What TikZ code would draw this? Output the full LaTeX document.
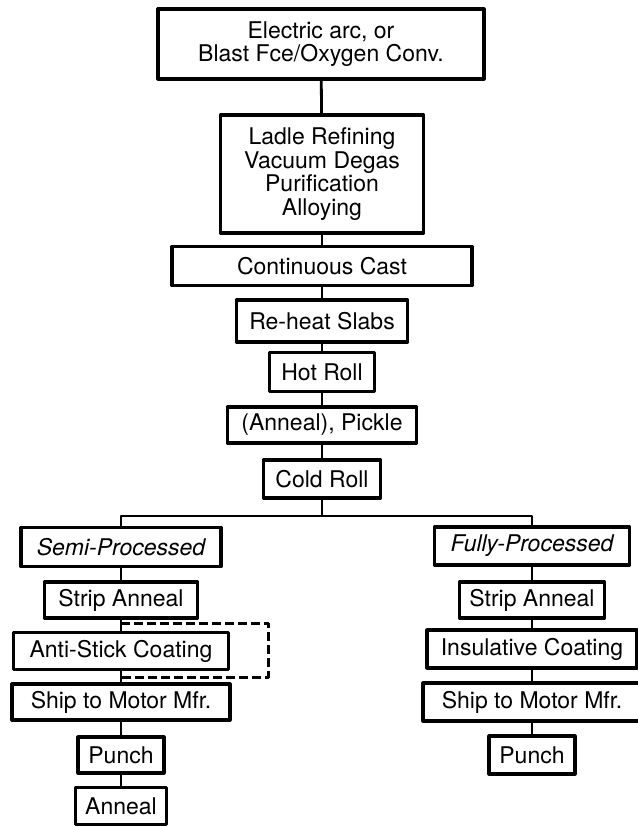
\documentclass[tikz,border=0pt]{standalone}
\usepackage{fontspec}
\setmainfont{TeX Gyre Heros}
\usetikzlibrary{positioning,calc}

\begin{document}
\begin{tikzpicture}[x=1pt,y=-1pt,line join=round,
  box/.style={draw,line width=3.2pt,inner sep=0pt,align=center,
    font=\fontsize{23}{23.5}\selectfont},
  link/.style={line width=2.8pt},
  opt/.style={line width=3pt,dash pattern=on 9pt off 4pt}]
\useasboundingbox (0,0) rectangle (637,827);
% main route
\node[box,minimum width=326,minimum height=70] (src) at (321,44) {Electric arc, or\\Blast Fce/Oxygen Conv.};
\node[box,minimum width=203,minimum height=118] (ladle) at (322,174) {Ladle Refining\\Vacuum Degas\\Purification\\Alloying};
\node[box,minimum width=300,minimum height=39] (cast) at (322,266) {Continuous Cast};
\node[box,minimum width=171,minimum height=42] (reheat) at (322,321) {Re-heat Slabs};
\node[box,minimum width=105,minimum height=39] (hot) at (322,372) {Hot Roll};
\node[box,minimum width=189,minimum height=36] (pickle) at (322,425) {(Anneal), Pickle};
\node[box,minimum width=117,minimum height=38] (cold) at (322,479) {Cold Roll};
\coordinate (fork) at (322,516);
% semi-processed
\node[box,minimum width=200,minimum height=39,font=\fontsize{23}{23.5}\selectfont\itshape] (semi) at (121,547) {Semi-Processed};
\node[box,minimum width=153,minimum height=36] (stripL) at (121,600) {Strip Anneal};
\node[box,minimum width=215,minimum height=37] (coatL) at (121,651) {Anti-Stick Coating};
\node[box,minimum width=218,minimum height=36] (shipL) at (121,702) {Ship to Motor Mfr.};
\node[box,minimum width=86,minimum height=36] (punchL) at (121,755) {Punch};
\node[box,minimum width=91,minimum height=37] (anneal) at (121,806) {Anneal};
% fully-processed
\node[box,minimum width=195,minimum height=38,font=\fontsize{23}{23.5}\selectfont\itshape] (fully) at (532,546) {Fully-Processed};
\node[box,minimum width=145,minimum height=36] (stripR) at (532,600) {Strip Anneal};
\node[box,minimum width=210,minimum height=38] (coatR) at (532,649) {Insulative Coating};
\node[box,minimum width=218,minimum height=38] (shipR) at (532,702) {Ship to Motor Mfr.};
\node[box,minimum width=86,minimum height=38] (punchR) at (532,755) {Punch};
% links
\draw[link] (src) -- (ladle);
\draw[link] (ladle) -- (cast);
\draw[link] (cast) -- (reheat);
\draw[link] (reheat) -- (hot);
\draw[link] (hot) -- (pickle);
\draw[link] (pickle) -- (cold);
\draw[link] (cold) -- (fork);
\draw[link] (semi) |- (fork) -| (fully);
\draw[link] (semi) -- (stripL);
\draw[link] (stripL) -- (coatL);
\draw[link] (coatL) -- (shipL);
\draw[link] (shipL) -- (punchL);
\draw[link] (punchL) -- (anneal);
\draw[link] (fully) -- (stripR);
\draw[link] (stripR) -- (coatR);
\draw[link] (coatR) -- (shipR);
\draw[link] (shipR) -- (punchR);
% optional coating
\coordinate (d1) at (121,623);
\coordinate (d2) at (121,677);
\draw[opt] (d1) -- (268,623) -- (268,677) -- (d2);
\end{tikzpicture}
\end{document}
